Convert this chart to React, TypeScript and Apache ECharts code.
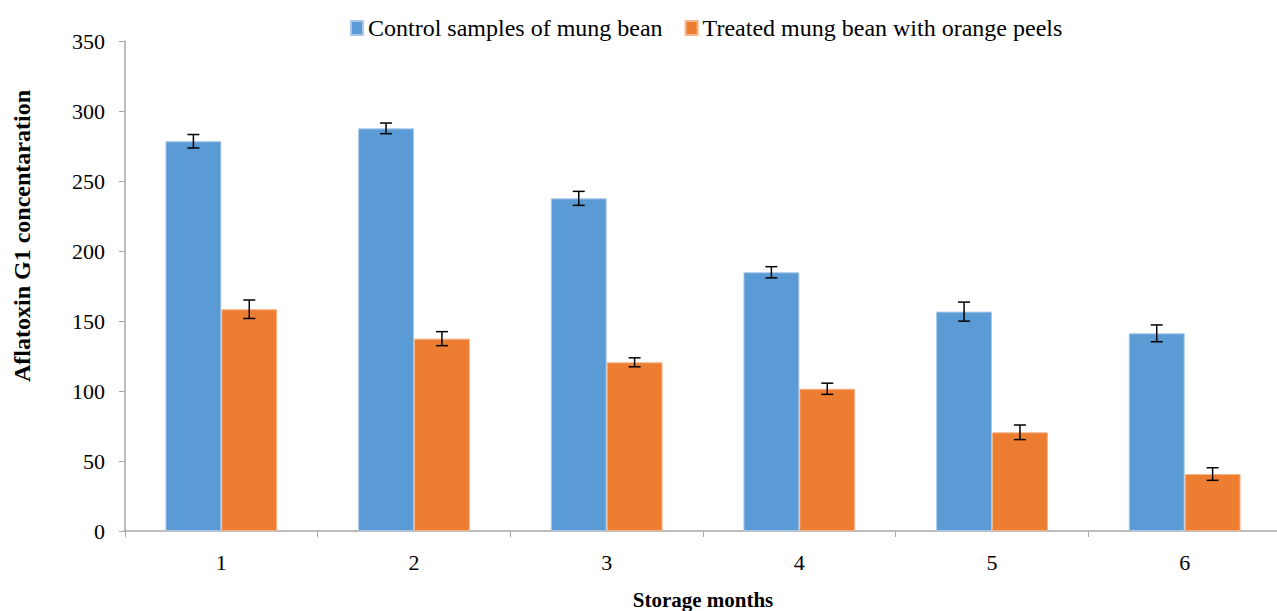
import React, { useEffect, useRef } from "react";
import * as echarts from "echarts";

const categories = ["1", "2", "3", "4", "5", "6"];
const controlValues = [278.4, 287.6, 237.6, 184.8, 156.7, 141.2];
const controlErrors = [4.8, 3.8, 5.0, 4.0, 6.8, 6.0];
const treatedValues = [158.4, 137.4, 120.5, 101.6, 70.5, 40.7];
const treatedErrors = [6.6, 5.0, 3.2, 4.0, 5.2, 4.5];
const seriesNames = ["Control samples of mung bean", "Treated mung bean with orange peels"];
const yTicks = { min: 0, max: 350, interval: 50 };
const xTitle = "Storage months";
const yTitle = "Aflatoxin G1 concentaration";

const FONT = "'Liberation Serif', 'Times New Roman', serif";
const GAP = 0.42;

function errorSeries(values: number[], errors: number[], side: number) {
  return {
    type: "custom",
    silent: true,
    z: 10,
    data: values.map((v, i) => [i, v, errors[i]]),
    renderItem: (params: any, api: any) => {
      const idx = api.value(0);
      const val = api.value(1);
      const err = api.value(2);
      const band = api.size([1, 0])[0];
      const off = ((band * (1 - GAP)) / 4) * side;
      const top = api.coord([idx, val + err]);
      const bot = api.coord([idx, val - err]);
      const x = top[0] + off;
      const cap = 6;
      const style = { stroke: "#000", lineWidth: 1.5 };
      return {
        type: "group",
        children: [
          { type: "line", shape: { x1: x, y1: top[1], x2: x, y2: bot[1] }, style },
          { type: "line", shape: { x1: x - cap, y1: top[1], x2: x + cap, y2: top[1] }, style },
          { type: "line", shape: { x1: x - cap, y1: bot[1], x2: x + cap, y2: bot[1] }, style },
        ],
      };
    },
  };
}

export default function App() {
  const ref = useRef<HTMLDivElement>(null);
  useEffect(() => {
    if (!ref.current) return;
    const chart = echarts.init(ref.current, null, { renderer: "svg" });
    chart.setOption({
      animation: false,
      backgroundColor: "#fff",
      textStyle: { fontFamily: FONT },
      legend: {
        data: seriesNames,
        top: 11,
        left: 345,
        icon: "rect",
        itemWidth: 12,
        itemHeight: 14,
        itemGap: 22,
        textStyle: { fontSize: 24, fontFamily: FONT, color: "#000" },
      },
      graphic: [
        {
          type: "text",
          x: 22,
          y: 236,
          rotation: Math.PI / 2,
          style: {
            text: yTitle,
            font: "bold 24px " + FONT,
            fill: "#000",
            textAlign: "center",
            textVerticalAlign: "middle",
          },
        },
      ],
      grid: { left: 125, width: 1156, top: 41, height: 490, outerBoundsMode: "none", containLabel: false },
      xAxis: {
        type: "category",
        data: categories,
        name: xTitle,
        nameLocation: "middle",
        nameGap: 58,
        nameTextStyle: { fontSize: 21, fontWeight: "bold", fontFamily: FONT, color: "#000" },
        axisLine: { lineStyle: { color: "#a6a6a6", width: 1.5 } },
        axisTick: { show: true, length: 6, lineStyle: { color: "#a6a6a6" } },
        axisLabel: { fontSize: 22, fontFamily: FONT, color: "#000", margin: 20 },
      },
      yAxis: {
        type: "value",
        min: yTicks.min,
        max: yTicks.max,
        interval: yTicks.interval,
        splitLine: { show: false },
        axisLine: { show: true, lineStyle: { color: "#a6a6a6", width: 1.5 } },
        axisTick: { show: true, length: 6, lineStyle: { color: "#a6a6a6" } },
        axisLabel: { fontSize: 22, fontFamily: FONT, color: "#000", margin: 20 },
      },
      series: [
        {
          name: seriesNames[0],
          type: "bar",
          data: controlValues,
          barGap: "0%",
          barCategoryGap: GAP * 100 + "%",
          itemStyle: { color: "#5b9bd5", borderColor: "#a9c8ea", borderWidth: 1 },
        },
        {
          name: seriesNames[1],
          type: "bar",
          data: treatedValues,
          barGap: "0%",
          barCategoryGap: GAP * 100 + "%",
          itemStyle: { color: "#ed7d31", borderColor: "#f5b48a", borderWidth: 1 },
        },
        errorSeries(controlValues, controlErrors, -1),
        errorSeries(treatedValues, treatedErrors, 1),
      ],
    });
    return () => chart.dispose();
  }, []);
  return (
    <div
      ref={ref}
      style={{ position: "fixed", left: 0, top: 0, width: 1277, height: 611, background: "#fff" }}
    />
  );
}
